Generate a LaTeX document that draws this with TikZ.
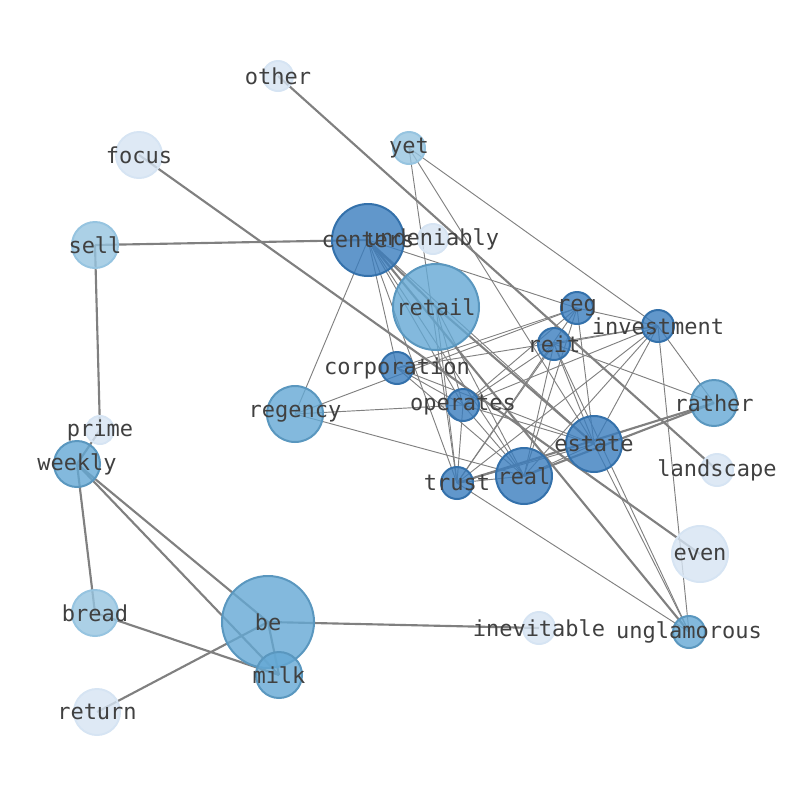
\documentclass[tikz,border=0pt]{standalone}
\usepackage{fontspec}
\setmonofont{DejaVu Sans Mono}
\usetikzlibrary{positioning}
\definecolor{cdark}{RGB}{58,125,190}
\definecolor{cmed}{RGB}{100,168,212}
\definecolor{clight}{RGB}{150,196,224}
\definecolor{cpale}{RGB}{214,228,243}
\definecolor{ctext}{RGB}{64,64,64}
\begin{document}
\begin{tikzpicture}[x=0.75pt,y=-0.75pt,
            word/.style={circle,inner sep=0,fill opacity=.8,line width=1.5pt},
            dark/.style={word,fill=cdark,draw=cdark!90!black},
            med/.style={word,fill=cmed,draw=cmed!90!black},
            light/.style={word,fill=clight,draw=clight},
            pale/.style={word,fill=cpale,draw=cpale},
            lab/.style={font=\ttfamily\fontsize{16.5}{17}\selectfont,text=ctext},
            thick edge/.style={draw=gray,line width=1.6pt},
            thin edge/.style={draw=gray,line width=.7pt}
          ]
          \useasboundingbox (0,0) rectangle (794,790);

          %words
          \foreach \n/\x/\y/\r/\s in {
              other/278/76/15/pale, focus/139/155/23/pale, yet/409/148/16/light,
              centers/368/240/36/dark, undeniably/433/239/15/pale, sell/95/245/23/light,
              retail/436/307/43/med, reg/577/308/16/dark, investment/658/326/16/dark,
              reit/554/344/16/dark, corporation/397/368/16/dark, regency/295/414/28/med,
              operates/463/405/16/dark, rather/714/403/23/med, prime/100/430/14/pale,
              weekly/77/464/23/med, estate/594/444/28/dark, landscape/717/470/16/pale,
              trust/457/483/16/dark, real/524/476/28/dark, even/700/554/28/pale,
              bread/95/613/23/light, be/268/622/46/med, inevitable/539/628/16/pale,
              unglamorous/689/632/16/med, milk/279/675/23/med, return/97/712/23/pale}
            \coordinate (\n) at (\x,\y);

          %heavy links
          \foreach \a/\b in {other/landscape, focus/even, sell/centers, sell/prime,
              prime/weekly, weekly/bread, weekly/be, weekly/milk, bread/milk, be/inevitable,
              be/milk, return/be, centers/unglamorous, retail/estate, trust/rather,
              real/rather, centers/retail}
            \path[thick edge] (\a) -- (\b);

          %light links
          \foreach \a/\b in {yet/trust, yet/investment, yet/estate, centers/regency,
              centers/corporation, centers/reg, centers/trust, centers/estate, centers/real,
              centers/operates, retail/operates, retail/trust, retail/real, reg/corporation,
              reg/regency, reg/operates, reg/trust, reg/real, reg/estate, reg/investment,
              investment/reit, investment/corporation, investment/operates, investment/trust,
              investment/real, investment/estate, investment/rather, investment/unglamorous,
              reit/operates, reit/trust, reit/real, reit/estate, reit/rather, reit/unglamorous,
              corporation/operates, corporation/real, corporation/estate, regency/operates,
              regency/real, operates/trust, operates/real, operates/estate, trust/real,
              trust/estate, trust/unglamorous, real/estate, estate/unglamorous}
            \path[thin edge] (\a) -- (\b);

          %circles and labels
          \foreach \n/\r/\s in {
              other/15/pale, focus/23/pale, yet/16/light, centers/36/dark,
              undeniably/15/pale, sell/23/light, retail/43/med, reg/16/dark,
              investment/16/dark, reit/16/dark, corporation/16/dark, regency/28/med,
              operates/16/dark, rather/23/med, prime/14/pale, weekly/23/med,
              estate/28/dark, landscape/16/pale, trust/16/dark, real/28/dark,
              even/28/pale, bread/23/light, be/46/med, inevitable/16/pale,
              unglamorous/16/med, milk/23/med, return/23/pale}
            \node[\s,minimum size=2*\r*0.75pt] (c-\n) at (\n) {};
          \foreach \n in {other, focus, yet, centers, undeniably, sell, retail, reg,
              investment, reit, corporation, regency, operates, rather, prime, weekly,
              estate, landscape, trust, real, even, bread, be, inevitable, unglamorous,
              milk, return}
            \node[lab] (l-\n) at (\n) {\n};
      \end{tikzpicture}
\end{document}
